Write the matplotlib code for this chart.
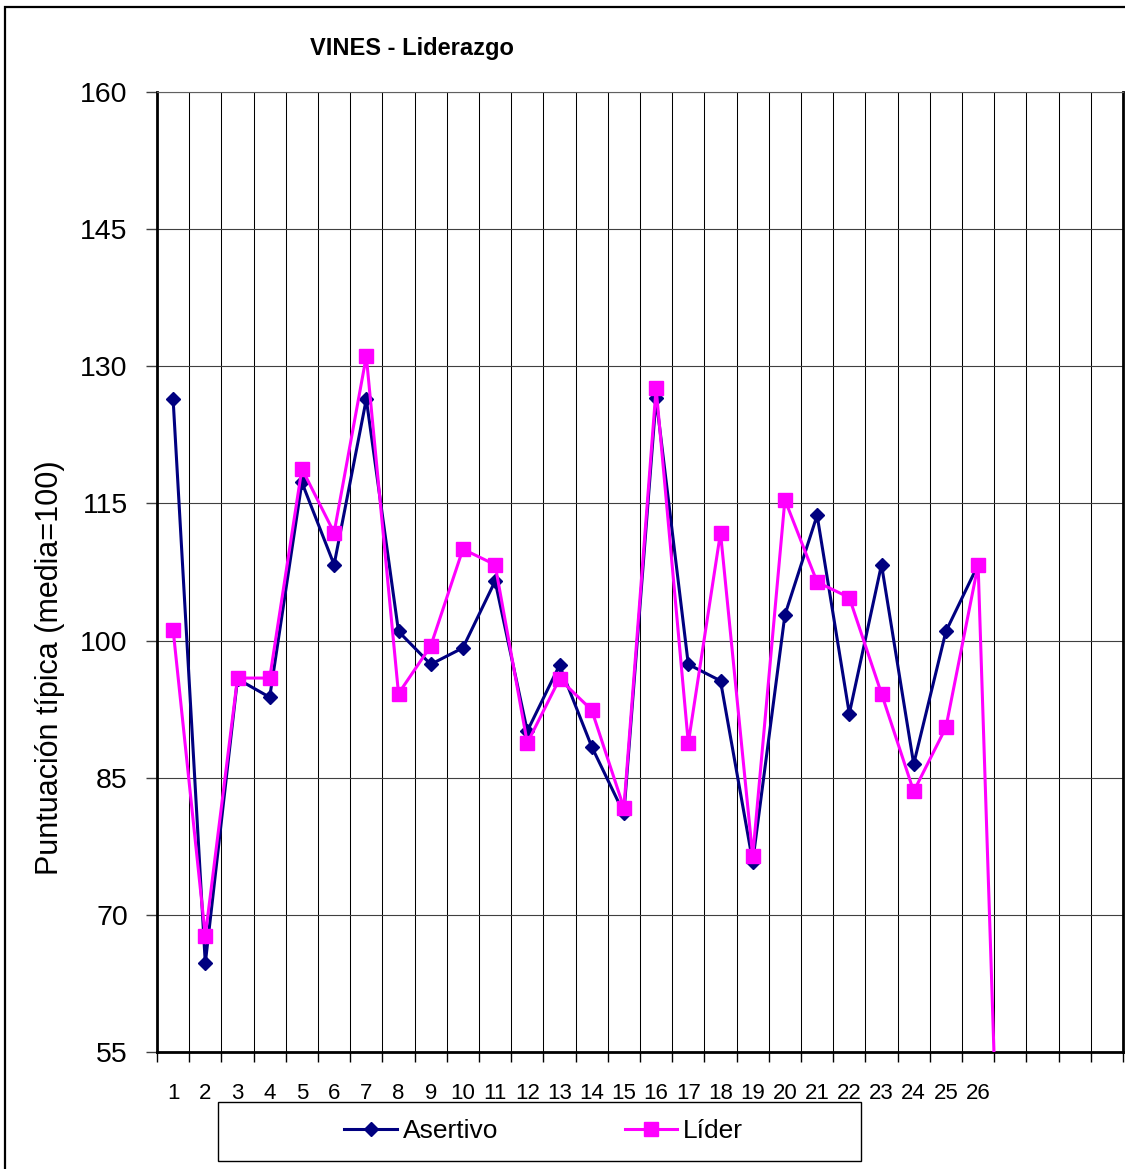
import matplotlib
matplotlib.use('Agg')
import matplotlib.pyplot as plt
import numpy as np
from matplotlib.patches import Rectangle

plt.rcParams['font.family'] = ['Liberation Sans', 'DejaVu Sans']

W, H = 1125, 1169

# 30 category slots on the axis, only the first 26 carry a label
categories = [str(i) for i in range(1, 27)] + [''] * 4
asertivo = [126.4, 64.7, 95.8, 93.8, 117.3, 108.3, 126.4, 101.0, 97.4, 99.2,
            106.5, 90.1, 97.3, 88.4, 81.1, 126.5, 97.4, 95.6, 75.8, 102.8,
            113.7, 92.0, 108.3, 86.5, 101.0, 108.3]
# the 27th entry is an empty cell read as zero, so the line falls off the axis
lider = [101.2, 67.7, 95.9, 95.9, 118.8, 111.8, 131.1, 94.2, 99.4, 110.0,
         108.3, 88.8, 95.8, 92.4, 81.7, 127.6, 88.8, 111.8, 76.4, 115.4,
         106.4, 104.7, 94.2, 83.5, 90.5, 108.3, 0.0]
y_ticks = [55, 70, 85, 100, 115, 130, 145, 160]

NAVY = '#000080'
PINK = '#FF00FF'

fig = plt.figure(figsize=(W / 100, H / 100), dpi=100)
ax = fig.add_axes([157 / W, 1 - 1052 / H, (1123 - 157) / W, (1052 - 92) / H])

x = np.arange(1, len(categories) + 1)
l1, = ax.plot(x[:len(asertivo)], asertivo, color=NAVY, lw=2.2, marker='D',
              ms=7.3, mec=NAVY, mfc=NAVY, label='Asertivo', zorder=3)
l2, = ax.plot(np.arange(1, len(lider) + 1), lider, color=PINK, lw=2.2,
              marker='s', ms=9.5, mec=PINK, mfc=PINK, label='Líder', zorder=4)

ax.set_xlim(0.5, len(categories) + 0.5)
ax.set_ylim(y_ticks[0], y_ticks[-1])

# ticks sit on category boundaries, labels in the middle of each slot
ax.set_xticks(np.arange(0.5, len(categories) + 1))
ax.set_xticklabels([])
ax.set_xticks(x, minor=True)
ax.set_xticklabels(categories, minor=True)
ax.tick_params(axis='x', which='major', length=7, width=1, color='black',
               direction='out')
ax.tick_params(axis='x', which='minor', length=0, labelsize=16, pad=22)
ax.set_yticks(y_ticks)
ax.tick_params(axis='y', length=8, width=1, color='#404040', labelsize=20.5,
               pad=13)

ax.grid(axis='x', which='major', color='black', lw=0.75)
ax.grid(axis='y', color='#404040', lw=0.8)
ax.set_axisbelow(True)

for side in ['left', 'bottom', 'right']:
    ax.spines[side].set_color('black')
    ax.spines[side].set_linewidth(2)
ax.spines['top'].set_color('#606060')
ax.spines['top'].set_linewidth(0.8)

fig.text(411.5 / W, 1 - 55 / H, 'VINES - Liderazgo', fontsize=17,
         fontweight='bold', ha='center', va='baseline')
fig.text(50 / W, 1 - 667.5 / H, 'Puntuación típica (media=100)', fontsize=22,
         rotation=90, ha='center', va='center')

# legend box
fig.patches.append(Rectangle((218 / W, 1 - 1161 / H), (861 - 218) / W,
                             (1161 - 1102) / H, transform=fig.transFigure,
                             fill=False, edgecolor='black', lw=1))
fig.legend(handles=[l1, l2], loc='center', ncol=2, frameon=False,
           bbox_to_anchor=(543.5 / W, 1 - 1131 / H),
           bbox_transform=fig.transFigure, fontsize=19, handlelength=2.0,
           handletextpad=0.2, columnspacing=4.8, borderpad=0)

# chart area border
fig.patches.append(Rectangle((5 / W, -0.1), 1.2, 1.1 - 7 / H,
                             transform=fig.transFigure, fill=False,
                             edgecolor='black', lw=1.6))

fig.savefig('out.png', dpi=100)
